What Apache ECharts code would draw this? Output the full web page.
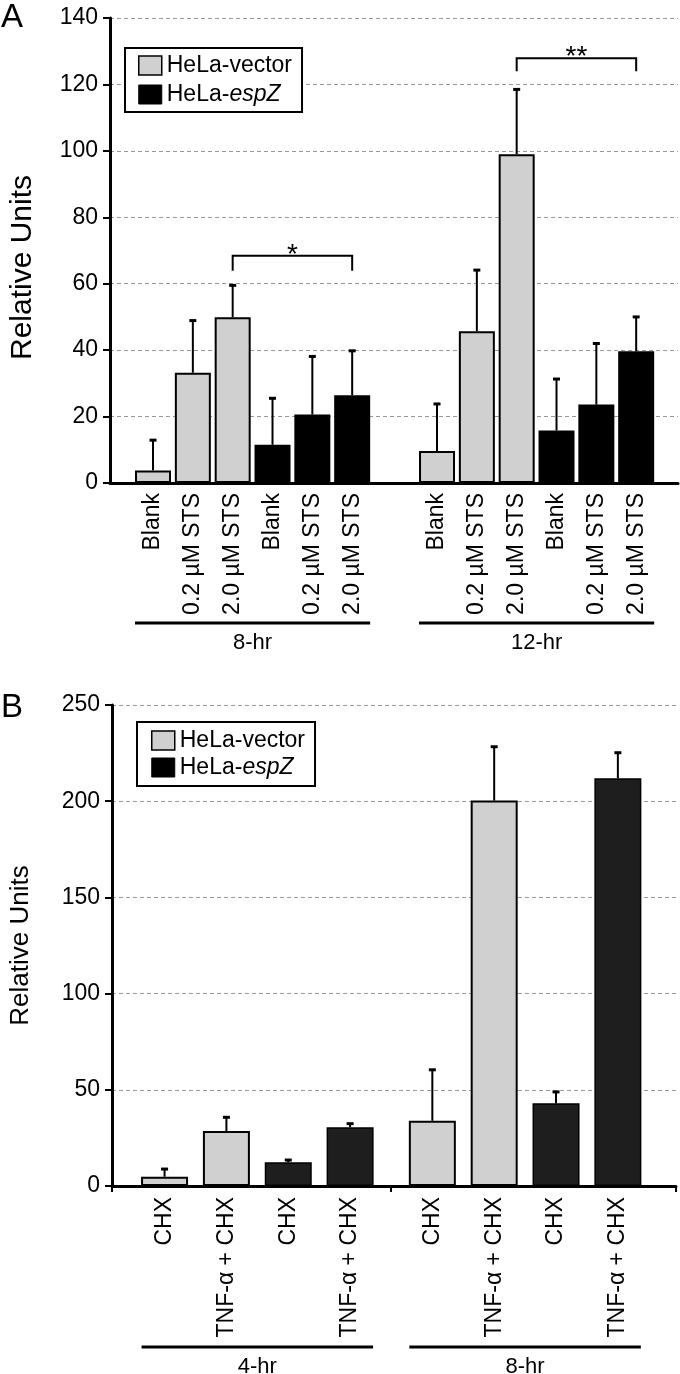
<!DOCTYPE html>
<html><head><meta charset="utf-8">
<script src="https://cdn.jsdelivr.net/npm/echarts@6/dist/echarts.min.js"></script>
<style>html,body{margin:0;padding:0;background:#fff}#c{width:680px;height:1374px}</style>
</head><body><div id="c"></div>
<script>
// ---------- Panel A data ----------
const aGroupNames = ['8-hr', '12-hr'];
const aTreatments = ['Blank', '0.2 µM STS', '2.0 µM STS'];
const aVectorMean = [3.8, 33.2, 49.9, 9.6, 45.7, 99.0];
const aVectorSD   = [9.1, 15.7, 9.6, 14.2, 18.4, 19.5];
const aEspZMean   = [11.5, 20.6, 26.4, 15.8, 23.6, 39.7];
const aEspZSD     = [14.0, 17.5, 13.4, 15.5, 18.4, 10.3];
const aSigLabels  = ['*', '**'];
const aSigTop     = [68.4, 127.9];
const aSigLegEnd  = [63.9, 124.0];
const aYMax = 140, aYStep = 20;

// ---------- Panel B data ----------
const bGroupNames = ['4-hr', '8-hr'];
const bTreatments = ['CHX', 'TNF-\u03b1 + CHX'];
const bVectorMean = [4.8, 28.6, 33.9, 200.3];
const bVectorSD   = [4.0, 7.1, 26.5, 28.0];
const bEspZMean   = [12.3, 30.5, 43.0, 211.9];
const bEspZSD     = [1.2, 1.9, 5.9, 13.3];
const bYMax = 250, bYStep = 50;

// ---------- layout helpers ----------
function buildPanel(groupNames, treatments, vMean, vSD, eMean, eSD, stride) {
  const nT = treatments.length;
  const vector = [], espz = [], errs = [], labelPos = [], labelTxt = [], spans = [];
  groupNames.forEach((gName, g) => {
    const base = g * stride;
    for (let i = 0; i < nT; i++) {
      const k = g * nT + i;
      const pv = base + i, pe = base + nT + i;
      vector.push([pv, vMean[k]]);
      espz.push([pe, eMean[k]]);
      errs.push([pv, vMean[k], vSD[k]]);
      errs.push([pe, eMean[k], eSD[k]]);
    }
    for (let s = 0; s < 2 * nT; s++) { labelPos.push(base + s); labelTxt.push(treatments[s % nT]); }
    spans.push([base, base + 2 * nT - 1]);
  });
  return { vector, espz, errs, labelPos, labelTxt, spans };
}

const A = buildPanel(aGroupNames, aTreatments, aVectorMean, aVectorSD, aEspZMean, aEspZSD, 7.13);
const B = buildPanel(bGroupNames, bTreatments, bVectorMean, bVectorSD, bEspZMean, bEspZSD, 4.33);

// significance brackets: from 2.0 µM vector bar to 2.0 µM espZ bar in each group
const aSig = aGroupNames.map((g, gi) => [gi * 7.13 + 2, gi * 7.13 + 5, aSigTop[gi], aSigLegEnd[gi]]);

const FONT = '"Liberation Sans", Arial, sans-serif';

function labelFormatter(pos, txt) {
  return function (v) {
    let best = 0, d = Infinity;
    pos.forEach((p, i) => { const dd = Math.abs(p - v); if (dd < d) { d = dd; best = i; } });
    return d < 0.2 ? txt[best] : '';
  };
}

function errRender(params, api) {
  const x = api.value(0), m = api.value(1), e = api.value(2);
  const p0 = api.coord([x, m]), p1 = api.coord([x, m + e]);
  return { type: 'group', children: [
    { type: 'line', shape: { x1: p0[0], y1: p0[1], x2: p1[0], y2: p1[1] }, style: { stroke: '#000', lineWidth: 2 } },
    { type: 'line', shape: { x1: p1[0] - 3.5, y1: p1[1], x2: p1[0] + 3.5, y2: p1[1] }, style: { stroke: '#000', lineWidth: 3 } }
  ]};
}

function spanRender(names, halfBar, lineOff, textOff) {
  return function (params, api) {
    const x1 = api.coord([api.value(0), 0]), x2 = api.coord([api.value(1), 0]);
    const y = x1[1] + lineOff;
    return { type: 'group', children: [
      { type: 'line', shape: { x1: x1[0] - halfBar, y1: y, x2: x2[0] + halfBar, y2: y }, style: { stroke: '#000', lineWidth: 3 } },
      { type: 'text', style: { text: names[params.dataIndex], x: (x1[0] + x2[0]) / 2, y: x1[1] + textOff,
        align: 'center', verticalAlign: 'middle', fontSize: 22, fontFamily: FONT, fill: '#000' } }
    ]};
  };
}

function sigRender(params, api) {
  const a = api.coord([api.value(0), api.value(2)]);
  const b = api.coord([api.value(1), api.value(2)]);
  const la = api.coord([api.value(0), api.value(3)]);
  return { type: 'group', children: [
    { type: 'polyline', shape: { points: [[a[0], la[1]], [a[0], a[1]], [b[0], b[1]], [b[0], la[1]]] },
      style: { stroke: '#000', lineWidth: 2, fill: null } },
    { type: 'text', style: { text: aSigLabels[params.dataIndex], x: (a[0] + b[0]) / 2, y: a[1] + 13,
      align: 'center', verticalAlign: 'bottom', fontSize: 28, fontFamily: FONT, fill: '#000' } }
  ]};
}

const legendCommon = {
  orient: 'vertical', icon: 'rect', itemWidth: 23, itemHeight: 19,
  borderColor: '#000', borderWidth: 2, backgroundColor: '#fff',
  formatter: n => n === 'HeLa-espZ' ? 'HeLa-{i|espZ}' : n,
  textStyle: { fontSize: 23, fontFamily: FONT, color: '#000', lineHeight: 23,
    rich: { i: { fontStyle: 'italic', fontSize: 23, fontFamily: FONT, color: '#000' } } },
  selectedMode: false
};

const yAxisCommon = {
  type: 'value', nameLocation: 'middle', nameRotate: 90,
  axisLine: { show: true, onZero: false, lineStyle: { color: '#000', width: 3 } },
  axisTick: { show: true, length: 7, lineStyle: { color: '#000', width: 2 } },
  axisLabel: { fontSize: 23, fontFamily: FONT, color: '#000', margin: 12 },
  splitLine: { show: true, lineStyle: { color: '#999', width: 1, type: [4, 3] } }
};

const option = {
  animation: false,
  backgroundColor: '#fff',
  grid: [
    { left: 95, right: 2, top: 18, height: 465 },
    { left: 101, right: 4, top: 705, height: 481 }
  ],
  legend: [
    Object.assign({}, legendCommon, { left: 125, top: 48, padding: [6, 10, 6, 13], itemGap: 6,
      data: [ { name: 'HeLa-vector', itemStyle: { color: '#d0d0d0', borderColor: '#000', borderWidth: 1.5 } },
              { name: 'HeLa-espZ', itemStyle: { color: '#000', borderColor: '#000', borderWidth: 1 } } ] }),
    Object.assign({}, legendCommon, { left: 137, top: 722, padding: [7, 10, 7, 14], itemGap: 4,
      data: [ { name: 'HeLa-vector', itemStyle: { color: '#d0d0d0', borderColor: '#000', borderWidth: 1.5 } },
              { name: 'HeLa-espZ', itemStyle: { color: '#000', borderColor: '#000', borderWidth: 1 } } ] })
  ],
  xAxis: [
    { type: 'value', gridIndex: 0, min: -1.08, max: 13.18,
      axisLine: { show: true, onZero: false, lineStyle: { color: '#000', width: 3 } },
      axisTick: { show: false }, splitLine: { show: false },
      axisLabel: { customValues: A.labelPos, formatter: labelFormatter(A.labelPos, A.labelTxt),
        rotate: 90, fontSize: 23, fontFamily: FONT, color: '#000', margin: 10 } },
    { type: 'value', gridIndex: 1, min: -0.85, max: 8.27,
      axisLine: { show: true, onZero: false, lineStyle: { color: '#000', width: 3 } },
      axisTick: { show: true, customValues: [-0.85, 3.665, 8.27], length: 6, lineStyle: { color: '#000', width: 2 } },
      splitLine: { show: false },
      axisLabel: { customValues: B.labelPos, formatter: labelFormatter(B.labelPos, B.labelTxt),
        rotate: 90, fontSize: 23, fontFamily: FONT, color: '#000', margin: 11 } }
  ],
  yAxis: [
    Object.assign({}, yAxisCommon, { gridIndex: 0, min: 0, max: aYMax, interval: aYStep,
      name: 'Relative Units', nameGap: 72,
      nameTextStyle: { fontSize: 30, fontFamily: FONT, color: '#000', padding: [0, 34, 0, 0] } }),
    Object.assign({}, yAxisCommon, { gridIndex: 1, min: 0, max: bYMax, interval: bYStep,
      name: 'Relative Units', nameGap: 78,
      nameTextStyle: { fontSize: 26, fontFamily: FONT, color: '#000' } })
  ],
  graphic: [
    { type: 'text', left: 1, top: 1, style: { text: 'A', fontSize: 33, fontFamily: FONT, fill: '#000' } },
    { type: 'text', left: 1, top: 691, style: { text: 'B', fontSize: 33, fontFamily: FONT, fill: '#000' } }
  ],
  series: [
    { name: 'HeLa-vector', type: 'bar', xAxisIndex: 0, yAxisIndex: 0, data: A.vector, barWidth: 36, barGap: '-100%',
      itemStyle: { color: '#d0d0d0', borderColor: '#000', borderWidth: 2 }, z: 2 },
    { name: 'HeLa-espZ', type: 'bar', xAxisIndex: 0, yAxisIndex: 0, data: A.espz, barWidth: 36, barGap: '-100%',
      itemStyle: { color: '#000', borderColor: '#000', borderWidth: 2 }, z: 2 },
    { type: 'custom', xAxisIndex: 0, yAxisIndex: 0, data: A.errs, renderItem: errRender, z: 3, clip: false },
    { type: 'custom', xAxisIndex: 0, yAxisIndex: 0, data: aSig, renderItem: sigRender, z: 3, clip: false,
      encode: { x: [0, 1], y: [2, 3] } },
    { type: 'custom', xAxisIndex: 0, yAxisIndex: 0, data: A.spans, renderItem: spanRender(aGroupNames, 18, 140, 160),
      z: 3, clip: false, encode: { x: [0, 1] } },

    { name: 'HeLa-vector', type: 'bar', xAxisIndex: 1, yAxisIndex: 1, data: B.vector, barWidth: 47, barGap: '-100%',
      itemStyle: { color: '#d0d0d0', borderColor: '#000', borderWidth: 2 }, z: 2 },
    { name: 'HeLa-espZ', type: 'bar', xAxisIndex: 1, yAxisIndex: 1, data: B.espz, barWidth: 47, barGap: '-100%',
      itemStyle: { color: '#1e1e1e', borderColor: '#000', borderWidth: 1.5 }, z: 2 },
    { type: 'custom', xAxisIndex: 1, yAxisIndex: 1, data: B.errs, renderItem: errRender, z: 3, clip: false },
    { type: 'custom', xAxisIndex: 1, yAxisIndex: 1, data: B.spans, renderItem: spanRender(bGroupNames, 23, 161, 181),
      z: 3, clip: false, encode: { x: [0, 1] } }
  ]
};

const chart = echarts.init(document.getElementById('c'), null, { renderer: 'canvas' });
chart.setOption(option);
</script>
</body></html>
